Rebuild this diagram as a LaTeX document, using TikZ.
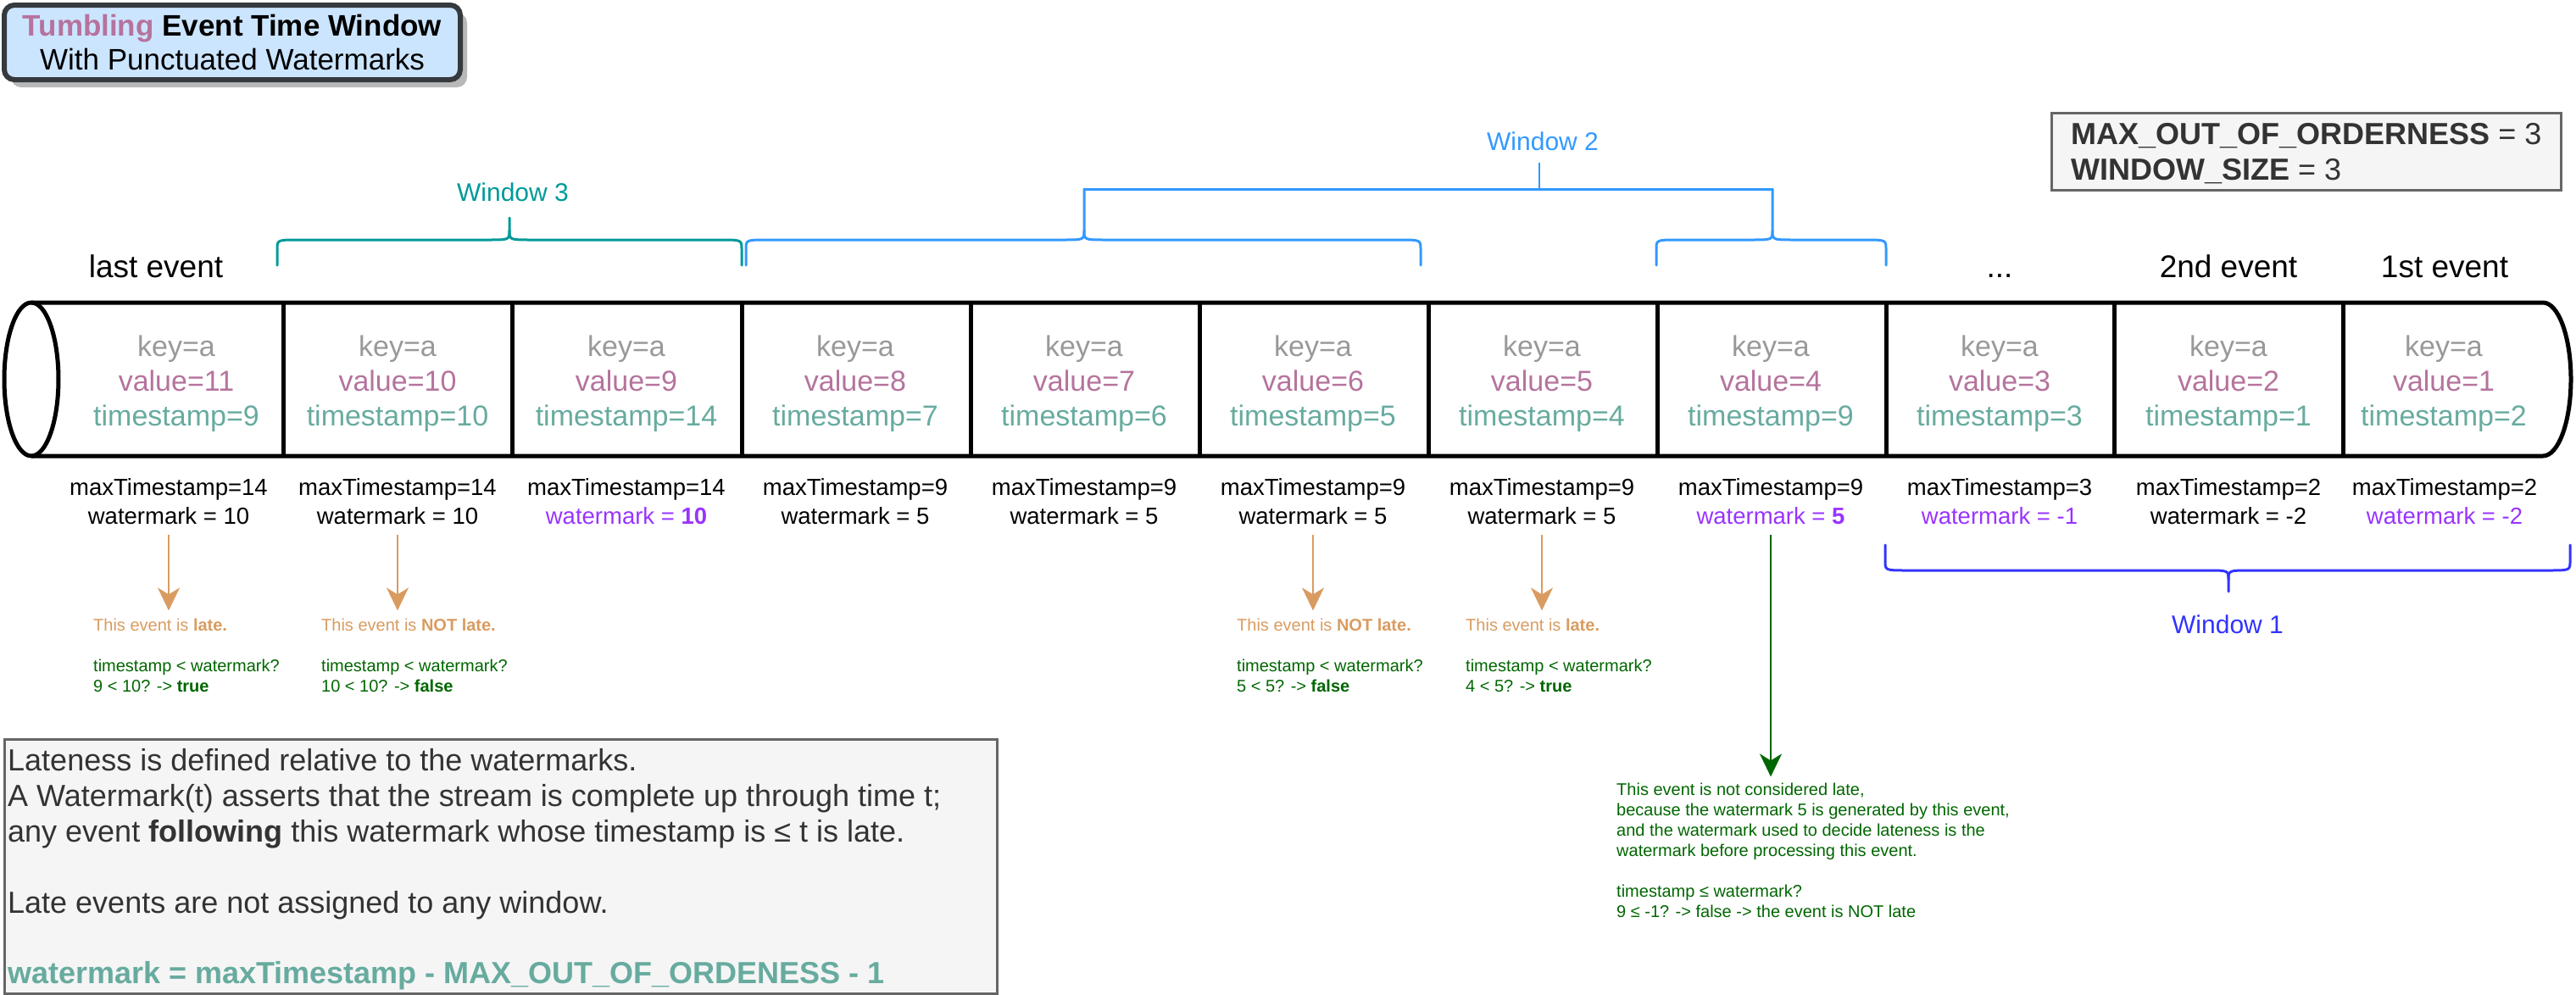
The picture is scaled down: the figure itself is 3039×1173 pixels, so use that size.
\documentclass[tikz,border=0pt]{standalone}
\usepackage{fontspec}
\setmainfont{Liberation Sans}
\usetikzlibrary{arrows.meta}

\definecolor{keygray}{HTML}{999999}
\definecolor{valmauve}{HTML}{B5739D}
\definecolor{tsgreen}{HTML}{67AB9F}
\definecolor{wmpurple}{HTML}{9933FF}
\definecolor{lateorange}{HTML}{D99B60}
\definecolor{darkgreen}{HTML}{006600}
\definecolor{wthree}{HTML}{009999}
\definecolor{wtwo}{HTML}{3399FF}
\definecolor{wone}{HTML}{3333FF}
\definecolor{titlefill}{HTML}{CCE5FF}
\definecolor{titleline}{HTML}{36393D}
\definecolor{notefill}{HTML}{F5F5F5}
\definecolor{noteline}{HTML}{666666}
\definecolor{notegray}{HTML}{333333}

\newcommand\fsz[2]{\fontsize{#1}{#2}\selectfont}

% brace opening downwards onto the stream, tip pointing up
% #1 colour, #2 left x, #3 right x, #4 middle x, #5 bar y, #6 tip y
\newcommand\upbrace[6]{%
  \draw[bracket,#1] (#2,#5+30) -- (#2,#5+11) .. controls (#2,#5) .. (#2+26,#5)
    -- (#4-26,#5) .. controls (#4,#5) .. (#4,#5-11) -- (#4,#6);
  \draw[bracket,#1] (#3,#5+30) -- (#3,#5+11) .. controls (#3,#5) .. (#3-26,#5)
    -- (#4+26,#5) .. controls (#4,#5) .. (#4,#5-11);
}
% brace below the labels, tip pointing down
\newcommand\downbrace[6]{%
  \draw[bracket,#1] (#2,#5-30) -- (#2,#5-11) .. controls (#2,#5) .. (#2+26,#5)
    -- (#4-26,#5) .. controls (#4,#5) .. (#4,#5+11) -- (#4,#6);
  \draw[bracket,#1] (#3,#5-30) -- (#3,#5-11) .. controls (#3,#5) .. (#3-26,#5)
    -- (#4+26,#5) .. controls (#4,#5) .. (#4,#5+11);
}

\begin{document}
\begin{tikzpicture}[x=1pt, y=-1pt,
  celltext/.style={anchor=base, inner sep=0pt, font=\fsz{34}{41}},
  evtlabel/.style={anchor=base, inner sep=0pt, font=\fsz{37}{44}},
  winlabel/.style={anchor=base, inner sep=0pt, font=\fsz{30}{36}},
  stattext/.style={anchor=base, inner sep=0pt, font=\fsz{27.5}{33},
    text height=19.8pt, text depth=5.8pt},
  hinttext/.style={anchor=base west, inner sep=0pt, font=\fsz{20}{24},
    text height=14.4pt, text depth=4.2pt},
  notetext/.style={anchor=base west, inner sep=0pt, font=\fsz{36}{42}, text=notegray},
  bracket/.style={line width=3pt, line cap=round, line join=round},
  streamline/.style={line width=5pt, line join=round},
  latearrow/.style={draw=lateorange, line width=2pt,
    -{Stealth[length=27pt, width=26pt, inset=8pt]}, shorten <=7pt, shorten >=9pt},
  okarrow/.style={draw=darkgreen, line width=2.5pt,
    -{Stealth[length=27pt, width=26pt, inset=8pt]}, shorten <=7pt, shorten >=7pt},
  infobox/.style={draw=noteline, fill=notefill, line width=3pt, inner sep=0pt, anchor=north west},
]
\useasboundingbox (0,0) rectangle (3039,1173);

% ---------- title ----------
\fill[black!28, rounded corners=12pt] (13,15) rectangle (551,103);
\node[draw=titleline, line width=6pt, fill=titlefill, rounded corners=12pt,
      minimum width=538pt, minimum height=88pt, inner sep=0pt, align=center,
      font=\fsz{35}{40}] (title) at (274,50)
  {\textcolor{valmauve}{\textbf{Tumbling}} \textbf{Event Time Window}\\With Punctuated Watermarks};

% ---------- parameters ----------
\node[infobox, minimum width=601pt, minimum height=91pt] (params) at (2419,132) {};
\node[notetext] (maxooo) at (2443,170) {\textbf{MAX\_OUT\_OF\_ORDERNESS} = 3};
\node[notetext] (winsize) at (2443,212) {\textbf{WINDOW\_SIZE} = 3};

% ---------- window braces ----------
\upbrace{wthree}{327}{875}{601}{283}{257}
\node[winlabel, text=wthree] (w3) at (605,237) {Window 3};

\upbrace{wtwo}{880}{1676}{1279}{283}{223}
\upbrace{wtwo}{1954}{2225}{2091}{283}{223}
\draw[bracket, wtwo] (1279,223) -- (2091,223);
\draw[wtwo, line width=2pt] (1816,223) -- (1816,192);
\node[winlabel, text=wtwo] (w2) at (1820,177) {Window 2};

\downbrace{wone}{2224}{3032}{2629}{673}{698}
\node[winlabel, text=wone] (w1) at (2628,747) {Window 1};

% ---------- event labels ----------
\node[evtlabel] (lastevt) at (184,327) {last event};
\node[evtlabel] (moreevt) at (2359,327) {...};
\node[evtlabel] (secondevt) at (2629,327) {2nd event};
\node[evtlabel] (firstevt) at (2884,327) {1st event};

% ---------- the stream ----------
\draw[streamline] (37,447.5) ellipse [x radius=32, y radius=90.5];
\draw[streamline] (37,357) -- (3000,357)
  arc[start angle=-90, end angle=90, x radius=33, y radius=90.5] -- (37,538);
\foreach \x in {334,604,875,1145,1415,1685,1955,2225,2494,2764}
  \draw[streamline] (\x,357) -- (\x,538);

\foreach \n/\x/\v/\t in {0/208/11/9, 1/469/10/10, 2/739/9/14, 3/1009/8/7,
    4/1279/7/6, 5/1549/6/5, 6/1819/5/4, 7/2089/4/9, 8/2359/3/3, 9/2629/2/1, 10/2883/1/2}{
  \node[celltext, text=keygray] (key\n) at (\x,420) {key=a};
  \node[celltext, text=valmauve] (val\n) at (\x,461) {value=\v};
  \node[celltext, text=tsgreen] (ts\n) at (\x,502) {timestamp=\t};
}

% ---------- state after each event ----------
\foreach \n/\x/\m/\w in {
    0/199/14/{watermark = 10},
    1/469/14/{watermark = 10},
    2/739/14/{\color{wmpurple}watermark = \textbf{10}},
    3/1009/9/{watermark = 5},
    4/1279/9/{watermark = 5},
    5/1549/9/{watermark = 5},
    6/1819/9/{watermark = 5},
    7/2089/9/{\color{wmpurple}watermark = \textbf{5}},
    8/2359/3/{\color{wmpurple}watermark = -1},
    9/2629/2/{watermark = -2},
    10/2884/2/{\color{wmpurple}watermark = -2}}{
  \node[stattext] (max\n) at (\x,584) {maxTimestamp=\m};
  \node[stattext] (wm\n) at (\x,618) {\w};
}

% ---------- lateness checks ----------
\foreach \n/\x/\verdict/\cmp/\res in {0/200/late./9 < 10?/true,
    1/469/NOT late./10 < 10?/false, 5/1549/NOT late./5 < 5?/false,
    6/1819/late./4 < 5?/true}{
  \node[hinttext, text=lateorange] (late\n) at (\x-90,744) {This event is \textbf{\verdict}};
  \node[hinttext, text=darkgreen] (ask\n) at (\x-90,792) {timestamp < watermark?};
  \node[hinttext, text=darkgreen] (ans\n) at (\x-90,816) {\cmp{} -> \textbf{\res}};
  \draw[latearrow] (wm\n.south) -- (late\n.north -| wm\n.south);
}

\node[hinttext, text=darkgreen] (ok1) at (1907,938) {This event is not considered late,};
\node[hinttext, text=darkgreen] (ok2) at (1907,962) {because the watermark 5 is generated by this event,};
\node[hinttext, text=darkgreen] (ok3) at (1907,986) {and the watermark used to decide lateness is the};
\node[hinttext, text=darkgreen] (ok4) at (1907,1010) {watermark before processing this event.};
\node[hinttext, text=darkgreen] (ok5) at (1907,1058) {timestamp ≤ watermark?};
\node[hinttext, text=darkgreen] (ok6) at (1907,1082) {9 ≤ -1? -> false -> the event is NOT late};
\draw[okarrow] (wm7.south) -- (ok1.north -| wm7.south);

% ---------- explanation ----------
\node[infobox, minimum width=1171pt, minimum height=300pt] (note) at (4,871) {};
\node[notetext] (note1) at (9,909) {Lateness is defined relative to the watermarks.};
\node[notetext] (note2) at (9,951) {A Watermark(t) asserts that the stream is complete up through time t;};
\node[notetext] (note3) at (9,993) {any event \textbf{following} this watermark whose timestamp is ≤ t is late.};
\node[notetext] (note4) at (9,1077) {Late events are not assigned to any window.};
\node[notetext, text=tsgreen] (note5) at (9,1160) {\textbf{watermark = maxTimestamp - MAX\_OUT\_OF\_ORDENESS - 1}};

\end{tikzpicture}
\end{document}
